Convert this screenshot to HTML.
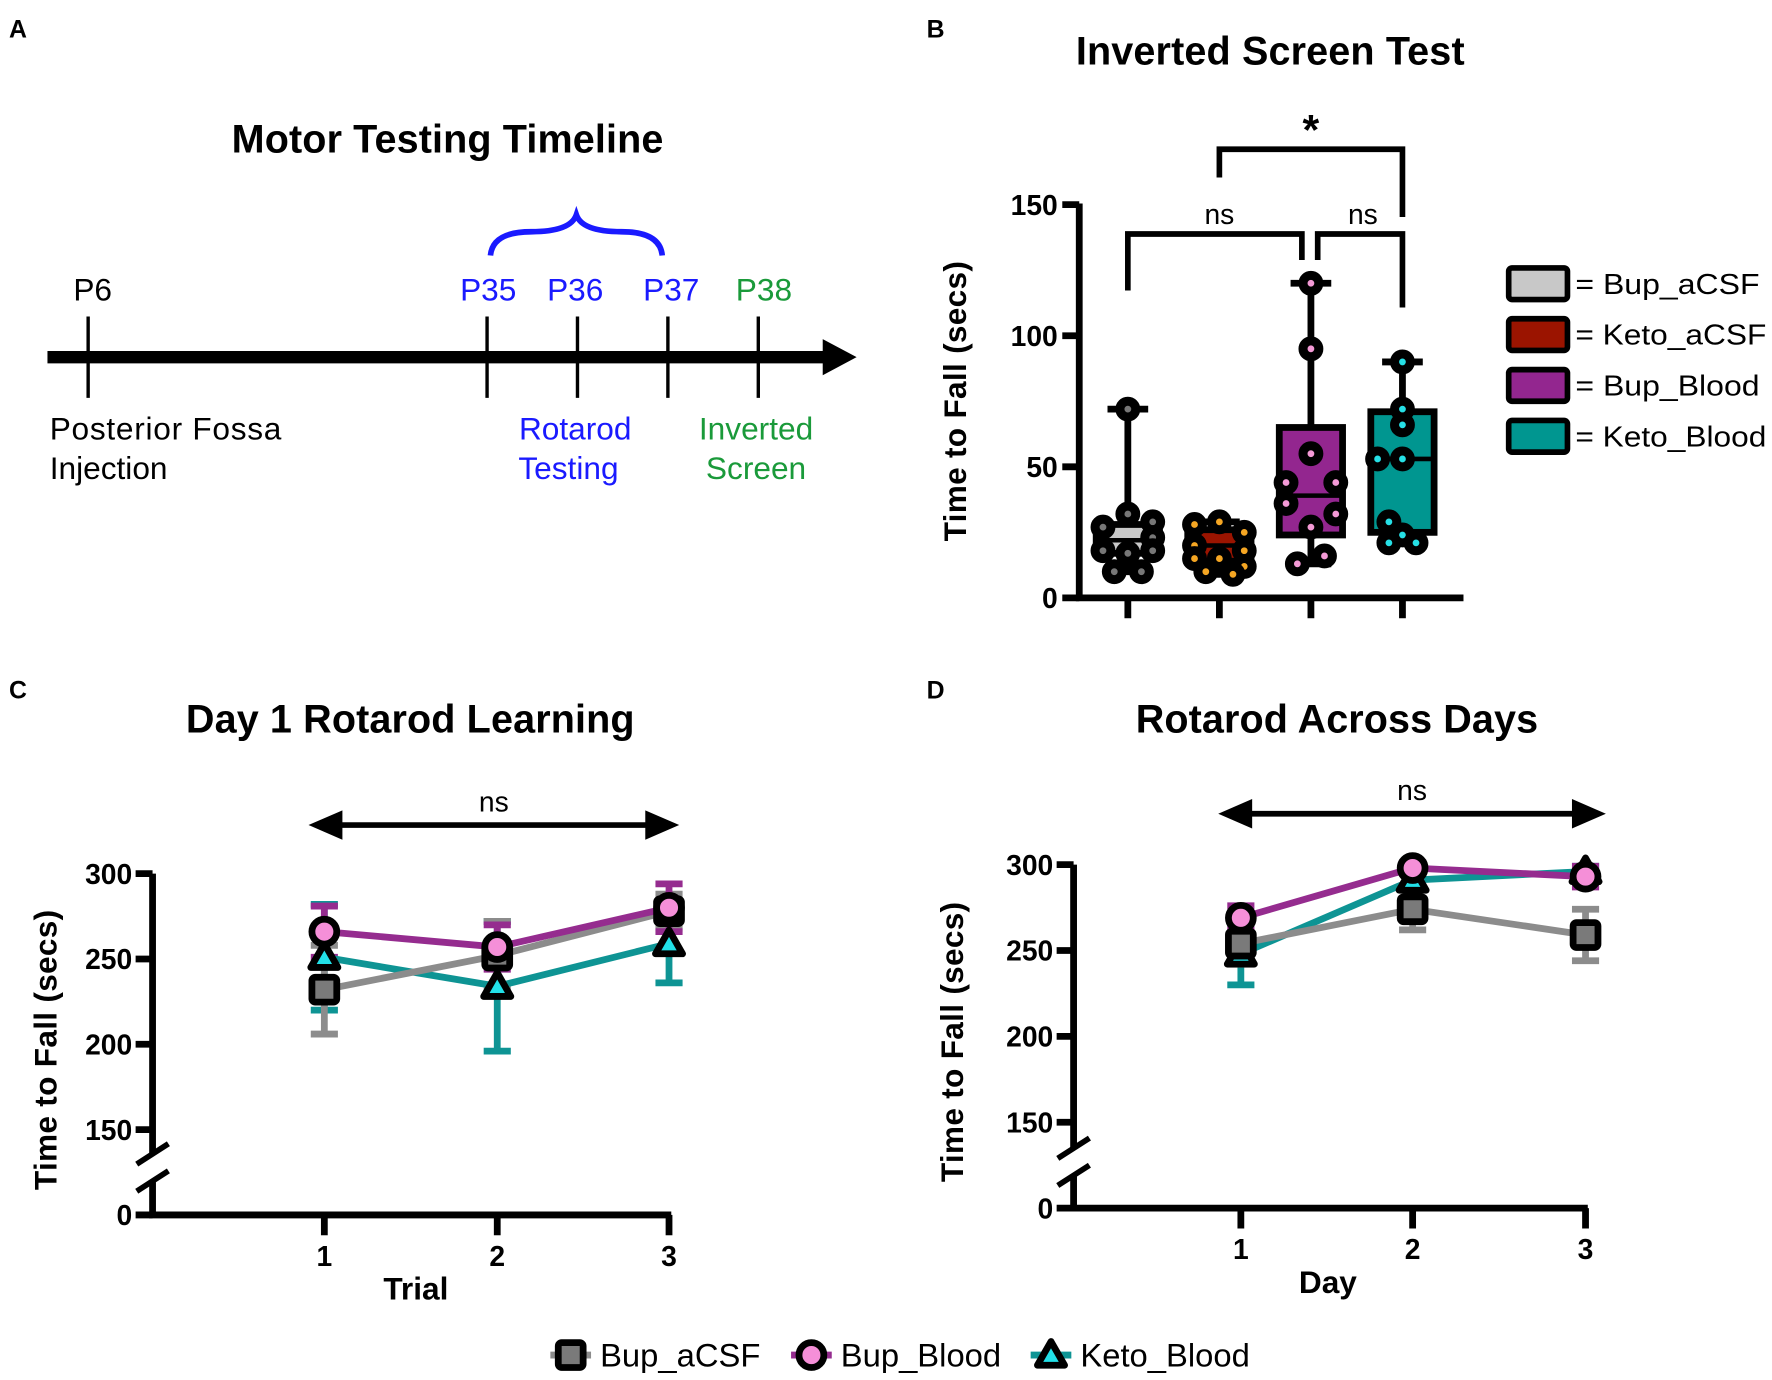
<!DOCTYPE html>
<html><head><meta charset="utf-8"><style>
html,body{margin:0;padding:0;background:#fff}
svg{display:block}
text{font-family:"Liberation Sans",Arial,sans-serif}
</style></head><body>
<svg id="fig" width="1772" height="1380" viewBox="0 0 1568 1221">
<g id="panelA">
<text x="8" y="33" font-size="22" font-weight="bold">A</text>
<text x="396" y="135" font-size="35" font-weight="bold" text-anchor="middle" textLength="382">Motor Testing Timeline</text>
<line x1="42" y1="316" x2="735" y2="316" stroke="#000" stroke-width="11"/>
<polygon points="728,300 758,316 728,332" fill="#000"/>
<g stroke="#000" stroke-width="3">
<line x1="78" y1="280" x2="78" y2="352"/><line x1="431" y1="280" x2="431" y2="352"/><line x1="511" y1="280" x2="511" y2="352"/><line x1="591" y1="280" x2="591" y2="352"/><line x1="671" y1="280" x2="671" y2="352"/>
</g>
<g font-size="28">
<text x="82" y="266" text-anchor="middle">P6</text>
<text x="432" y="266" text-anchor="middle" fill="#1a1aff">P35</text>
<text x="509" y="266" text-anchor="middle" fill="#1a1aff">P36</text>
<text x="594" y="266" text-anchor="middle" fill="#1a1aff">P37</text>
<text x="676" y="266" text-anchor="middle" fill="#1a9a3a">P38</text>
<text x="44" y="389" textLength="205">Posterior Fossa</text>
<text x="44" y="424">Injection</text>
<text x="509" y="389" text-anchor="middle" fill="#1a1aff">Rotarod</text>
<text x="503" y="424" text-anchor="middle" fill="#1a1aff">Testing</text>
<text x="669" y="389" text-anchor="middle" fill="#1a9a3a">Inverted</text>
<text x="669" y="424" text-anchor="middle" fill="#1a9a3a">Screen</text>
</g>
<path d="M434,226 Q436,205 470,205 Q505,205 510,190 Q515,205 550,205 Q584,205 586,226" fill="none" stroke="#1a1aff" stroke-width="5"/>
</g>
<g id="panelB"></g>
<g id="panelC"></g>
<g id="panelD"></g>
<g id="legendBottom"></g>
</svg>
<script>
// ---- Panel B data ----
const boxGroups = ["Bup_aCSF","Keto_aCSF","Bup_Blood","Keto_Blood"];
const boxMin = [10, 9, 13, 21];
const boxQ1 = [17, 14, 24, 25];
const boxMedian = [22, 20, 39, 53];
const boxQ3 = [28, 26, 65, 71];
const boxMax = [72, 29, 120, 90];
const ptsBupACSF = [72, 32, 29, 27, 23, 18, 18, 17, 10, 10];
const ptsKetoACSF = [29, 28, 25, 20, 18, 15, 15, 12, 10, 9];
const ptsBupBlood = [120, 95, 55, 44, 44, 36, 32, 27, 16, 13];
const ptsKetoBlood = [90, 72, 66, 53, 53, 29, 24, 21, 21];
const bTicks = [0, 50, 100, 150];
// ---- Panel C data ----
const trialCats = [1, 2, 3];
const cBupACSF = [232, 252, 278];
const cBupACSFErr = [26, 20, 10];
const cBupBlood = [266, 257, 280];
const cBupBloodErr = [15, 13, 14];
const cKetoBlood = [251, 234, 259];
const cKetoBloodErr = [31, 38, 23];
// ---- Panel D data ----
const dayCats = [1, 2, 3];
const dBupACSF = [254, 274, 259];
const dBupACSFErr = [12, 12, 15];
const dBupBlood = [269, 298, 293];
const dBupBloodErr = [7, 3, 6];
const dKetoBlood = [248, 291, 296];
const dKetoBloodErr = [18, 4, 3];
const lineTicks = [150, 200, 250, 300];

const NS="http://www.w3.org/2000/svg";
function mk(parent,tag,attrs,txt){const e=document.createElementNS(NS,tag);for(const k in attrs)e.setAttribute(k,attrs[k]);if(txt!==undefined)e.textContent=txt;parent.appendChild(e);return e;}

// ===== Panel B =====
(function(){
const g=document.getElementById('panelB');
const yB=v=>529-v*(348/150);
const xs=[998,1079,1160,1241];
const xB=i=>xs[i];
const fills=["#c8c8c8","#9b1400","#93268f","#009690"];
const dots=["#777","#f5a623","#f49ad6","#26e0e6"];
const legW=[163,169,163,169];
let t=mk(g,'text',{x:820,y:33,'font-size':22,'font-weight':'bold'},'B');


t=mk(g,'text',{x:1124,y:57,'font-size':35,'font-weight':'bold','text-anchor':'middle',textLength:344},'Inverted Screen Test');


let ax=mk(g,'path',{d:'M955,180 V529 H1295',fill:'none',stroke:'#000','stroke-width':6});


bTicks.forEach(v=>{
 mk(g,'line',{x1:940,x2:955,y1:yB(v),y2:yB(v),stroke:'#000','stroke-width':6});
 const tl=mk(g,'text',{x:936,y:yB(v)+9,'font-size':25,'font-weight':'bold','text-anchor':'end'},v);
 
 
});
boxGroups.forEach((n,i)=>mk(g,'line',{x1:xB(i),x2:xB(i),y1:529,y2:547,stroke:'#000','stroke-width':6}));
t=mk(g,'text',{x:0,y:0,'font-size':28,'font-weight':'bold','text-anchor':'middle',textLength:248,transform:'translate(855,355) rotate(-90)'},'Time to Fall (secs)');


const pts=[ptsBupACSF,ptsKetoACSF,ptsBupBlood,ptsKetoBlood];
const jit=[[0,0,22,-22,22,-22,22,0,-12,12],[0,-22,22,-22,22,-22,0,22,-12,12],[0,0,0,-22,22,-22,22,0,12,-12],[0,0,0,-22,0,-12,0,-12,12]];
boxGroups.forEach((n,i)=>{
 const x=xB(i);
 const wl=mk(g,'line',{x1:x,x2:x,y1:yB(boxMax[i]),y2:yB(boxMin[i]),stroke:'#000','stroke-width':6});
 
 
 mk(g,'line',{x1:x-18,x2:x+18,y1:yB(boxMax[i]),y2:yB(boxMax[i]),stroke:'#000','stroke-width':6});
 mk(g,'line',{x1:x-18,x2:x+18,y1:yB(boxMin[i]),y2:yB(boxMin[i]),stroke:'#000','stroke-width':6});
 const b=mk(g,'rect',{x:x-28,y:yB(boxQ3[i]),width:56,height:yB(boxQ1[i])-yB(boxQ3[i]),fill:fills[i],stroke:'#000','stroke-width':6});
 
 
 mk(g,'line',{x1:x-28,x2:x+28,y1:yB(boxMedian[i]),y2:yB(boxMedian[i]),stroke:'#000','stroke-width':4});
 pts[i].forEach((v,j)=>{
  const c=mk(g,'circle',{cx:x+(jit[i][j]||0),cy:yB(v),r:7,fill:dots[i],stroke:'#000','stroke-width':8});
  
  
 });
});
const br=(d,name)=>{const p=mk(g,'path',{d:d,fill:'none',stroke:'#000','stroke-width':5});};
br('M998,257 V207 H1152 V230','bracket-ns-1');
br('M1166,230 V207 H1241 V272','bracket-ns-2');
br('M1079,157 V132 H1241 V192','bracket-star');
[[1079,198,'ns'],[1206,198,'ns']].forEach(a=>{const s=mk(g,'text',{x:a[0],y:a[1],'font-size':25,'text-anchor':'middle'},a[2]);});
t=mk(g,'text',{x:1160,y:128,'font-size':38,'font-weight':'bold','text-anchor':'middle'},'*');


boxGroups.forEach((n,i)=>{
 const y=237+i*45;
 const r=mk(g,'rect',{x:1335,y:y,width:52,height:28,rx:3,fill:fills[i],stroke:'#000','stroke-width':5});
 
 
 const lt=mk(g,'text',{x:1394,y:y+23,'font-size':25,textLength:legW[i],lengthAdjust:'spacingAndGlyphs'},'= '+n);
 
 
});
})();

// ===== Line panels =====
function marker(g,type,x,y,name){
 let e;
 if(type==='sq') e=mk(g,'rect',{x:x-11,y:y-11,width:22,height:22,rx:3,fill:'#7a7a7a',stroke:'#000','stroke-width':6});
 else if(type==='ci') e=mk(g,'circle',{cx:x,cy:y,r:11,fill:'#f58fd8',stroke:'#000','stroke-width':6});
 else e=mk(g,'polygon',{points:`${x},${y-12} ${x+12},${y+9} ${x-12},${y+9}`,fill:'#22e0e8',stroke:'#000','stroke-width':6,'stroke-linejoin':'round'});
 
 
}
function linePanel(id,o){
 const g=document.getElementById(id);
 const y=v=>v===0?o.y0:o.y300+(300-v)*o.k;
 const x=i=>o.xs[i];
 let t=mk(g,'text',{x:o.lx,y:618,'font-size':22,'font-weight':'bold'},o.letter);
 
 
 t=mk(g,'text',{x:o.tx,y:648,'font-size':35,'font-weight':'bold','text-anchor':'middle',textLength:o.tl},o.title);
 
 
 const a=mk(g,'path',{d:`M${o.ax},${o.y300} V${o.brk} M${o.ax},${o.brk+24} V${o.y0} H${o.ax2}`,fill:'none',stroke:'#000','stroke-width':6});
 
 
 mk(g,'path',{d:`M${o.ax-14},${o.brk+8} L${o.ax+14},${o.brk-10} M${o.ax-14},${o.brk+32} L${o.ax+14},${o.brk+14}`,stroke:'#000','stroke-width':5,fill:'none'});
 lineTicks.concat([0]).forEach(v=>{
  mk(g,'line',{x1:o.ax-15,x2:o.ax,y1:y(v),y2:y(v),stroke:'#000','stroke-width':6});
  const tl=mk(g,'text',{x:o.ax-18,y:y(v)+9,'font-size':25,'font-weight':'bold','text-anchor':'end'},v);
  
  
 });
 o.cats.forEach((c,i)=>{
  mk(g,'line',{x1:x(i),x2:x(i),y1:o.y0,y2:o.y0+18,stroke:'#000','stroke-width':6});
  const tl=mk(g,'text',{x:x(i),y:o.y0+45,'font-size':25,'font-weight':'bold','text-anchor':'middle'},c);
  
  
 });
 t=mk(g,'text',{x:o.xtx,y:o.y0+75,'font-size':28,'font-weight':'bold','text-anchor':'middle'},o.xtitle);
 
 
 t=mk(g,'text',{x:0,y:0,'font-size':28,'font-weight':'bold','text-anchor':'middle',textLength:248,transform:`translate(${o.ytx},${(o.y300+o.y0)/2+5}) rotate(-90)`},'Time to Fall (secs)');
 
 
 const ar=mk(g,'path',{d:`M${o.arx1+25},${o.ary} H${o.arx2-25}`,stroke:'#000','stroke-width':5});
 
 
 mk(g,'polygon',{points:`${o.arx1},${o.ary} ${o.arx1+30},${o.ary-13} ${o.arx1+30},${o.ary+13}`});
 mk(g,'polygon',{points:`${o.arx2},${o.ary} ${o.arx2-30},${o.ary-13} ${o.arx2-30},${o.ary+13}`});
 t=mk(g,'text',{x:(o.arx1+o.arx2)/2,y:o.ary-12,'font-size':25,'text-anchor':'middle'},'ns');
 
 
 o.series.forEach(s=>{
  s.v.forEach((v,i)=>{
   const eb=mk(g,'path',{d:`M${x(i)},${y(v-s.e[i])} V${y(v+s.e[i])} M${x(i)-12},${y(v+s.e[i])} h24 M${x(i)-12},${y(v-s.e[i])} h24`,stroke:s.c,'stroke-width':6,fill:'none'});
   
   
  });
 });
 o.series.forEach(s=>{
  const pl=mk(g,'polyline',{points:s.v.map((v,i)=>x(i)+','+y(v)).join(' '),fill:'none',stroke:s.c,'stroke-width':6});
  
  
 });
 o.series.forEach(s=>s.v.forEach((v,i)=>marker(g,s.m,x(i),y(v),'point-'+s.n)));
}
linePanel('panelC',{letter:'C',lx:8,title:'Day 1 Rotarod Learning',tx:363,tl:397,ax:135,ax2:594,y300:773,k:1.51,y0:1075,brk:1022,
 xs:[287,440,592],cats:trialCats,xtitle:'Trial',xtx:368,ytx:50,arx1:273,arx2:601,ary:730,
 series:[{n:'keto-blood',v:cKetoBlood,e:cKetoBloodErr,c:'#0e9494',m:'tr'},
         {n:'bup-acsf',v:cBupACSF,e:cBupACSFErr,c:'#8c8c8c',m:'sq'},
         {n:'bup-blood',v:cBupBlood,e:cBupBloodErr,c:'#952c8f',m:'ci'}]});
linePanel('panelD',{letter:'D',lx:820,title:'Rotarod Across Days',tx:1183,tl:356,ax:950,ax2:1405,y300:765,k:1.52,y0:1069,brk:1017,
 xs:[1098,1250,1403],cats:dayCats,xtitle:'Day',xtx:1175,ytx:852,arx1:1078,arx2:1421,ary:720,
 series:[{n:'keto-blood',v:dKetoBlood,e:dKetoBloodErr,c:'#0e9494',m:'tr'},
         {n:'bup-acsf',v:dBupACSF,e:dBupACSFErr,c:'#8c8c8c',m:'sq'},
         {n:'bup-blood',v:dBupBlood,e:dBupBloodErr,c:'#952c8f',m:'ci'}]});

// ===== Bottom legend =====
(function(){
const g=document.getElementById('legendBottom');
[[487,'#8c8c8c','sq','Bup_aCSF'],[700,'#952c8f','ci','Bup_Blood'],[912,'#0e9494','tr','Keto_Blood']].forEach(a=>{
 mk(g,'line',{x1:a[0],x2:a[0]+36,y1:1199,y2:1199,stroke:a[1],'stroke-width':6});
 marker(g,a[2],a[0]+18,1199,'legend-marker-'+a[3].toLowerCase());
 const t=mk(g,'text',{x:a[0]+44,y:1209,'font-size':29},a[3]);
 
 
});
})();
</script>
</body></html>
